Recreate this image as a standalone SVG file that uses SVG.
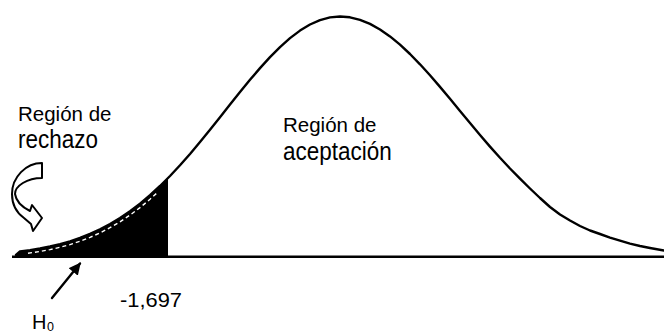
<svg xmlns="http://www.w3.org/2000/svg" width="664" height="334" viewBox="0 0 664 334">
<style>
.t{font-family:"Liberation Sans",Arial,sans-serif;fill:#000}
.ln{fill:none;stroke:#000;stroke-linejoin:round;stroke-linecap:round}
</style>
<defs>
<marker id="ah" viewBox="0 0 10 10" refX="9" refY="5" markerWidth="5" markerHeight="5" markerUnits="strokeWidth" orient="auto">
<path d="M0,0 L10,5 L0,10 Z" fill="#000"/>
</marker>
</defs>
<rect width="664" height="334" fill="#fff"/>
<g id="rejection-area">
<path d="M16,255 L20,251.5 L30,250.2 L40,248.5 L50,246.5 L60,244.1 L70,241.3 L80,237.9 L90,233.9 L100,229.3 L110,224 L120,218 L130,211.2 L140,203.6 L150,195.2 L160,186 L168,178.1 L168,256.5 L16,256.5 Z" fill="#000"/>
<path d="M28,253.2 L40,251.5 L50,249.6 L60,247.3 L70,244.6 L80,241.3 L90,237.4 L100,232.9 L110,227.7 L120,221.8 L130,215.1 L140,207.6 L150,199.3 L158,192" fill="none" stroke="#fff" stroke-width="1.4" stroke-dasharray="4 3"/>
</g>
<g id="curve">
<path class="ln" stroke-width="2.4" d="M16,255 L20,251.5 L30,250.2 L40,248.5 L50,246.5 L60,244.1 L70,241.3 L80,237.9 L90,233.9 L100,229.3 L110,224 L120,218 L130,211.2 L140,203.6 L150,195.2 L160,186 L170,176 L180,165.3 L190,154 L200,142.1 L210,129.8 L220,117.3 L230,104.6 L240,92.1 L250,79.8 L260,68.1 L270,57.1 L280,47.1 L290,38.1 L300,30.6 L310,24.5 L320,20.1 L330,17.4 L340,16.5 L350,17.3 L360,19.8 L370,23.9 L380,29.5 L390,36.4 L400,44.7 L410,54 L420,64.3 L430,75.3 L440,86.9 L450,98.8 L460,110.9 L470,123 L480,135 L490,146.6 L500,157.8 L510,168.5 L520,178.6 L530,188.5 L540,198 L550,207 L560,214.5 L570,220.5 L580,226 L590,230.5 L600,234 L610,237.6 L620,240.7 L630,243.6 L640,246 L650,248 L664,250.5"/>
</g>
<g id="axis">
<line x1="12" y1="256.8" x2="664" y2="256.8" stroke="#000" stroke-width="2.6"/>
</g>
<g id="curved-arrow">
<path d="M42,163 C26,163 12,177 12,194 C12,205 17,213 24,218 L31,224 L33,231 L42,218 L32,205 L30,211 C22,207 16,201 15,194 C15,186 27,178 42,178 Z" fill="#fff" stroke="#000" stroke-width="2" stroke-linejoin="round"/>
</g>
<g id="label-rechazo">
<text class="t" x="18" y="121" font-size="20.5">Región de</text>
<text class="t" font-size="22.5" transform="translate(18,148) scale(1,1.18)">rechazo</text>
</g>
<g id="label-aceptacion">
<text class="t" x="283" y="132" font-size="20.5">Región de</text>
<text class="t" font-size="22.5" transform="translate(283,160) scale(1,1.18)">aceptación</text>
</g>
<g id="label-value">
<text class="t" x="120" y="307" font-size="21" textLength="62" lengthAdjust="spacingAndGlyphs">-1,697</text>
</g>
<g id="label-h0">
<text class="t" x="32" y="329" font-size="20">H<tspan x="47" y="331" font-size="12.5">0</tspan></text>
</g>
<g id="connectors">
<line class="ln" x1="52" y1="298" x2="80" y2="263.5" stroke-width="2.4" marker-end="url(#ah)"/>
</g>
</svg>
